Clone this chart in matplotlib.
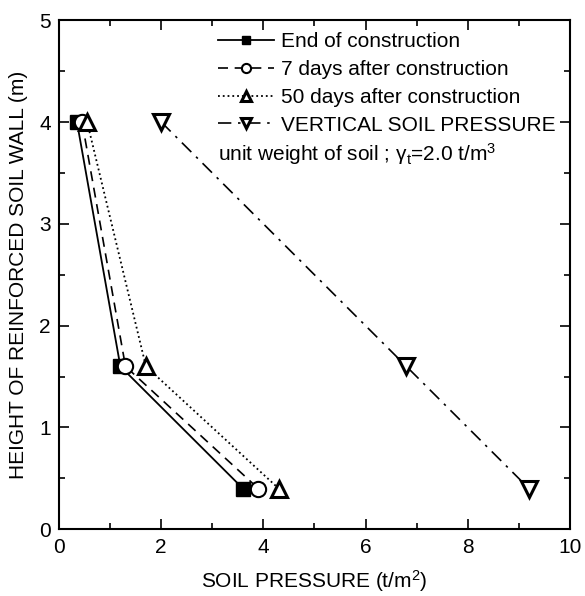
import matplotlib
matplotlib.use("Agg")
import matplotlib.pyplot as plt
from matplotlib.ticker import MultipleLocator

plt.rcParams['font.family'] = ['Liberation Sans', 'DejaVu Sans']
plt.rcParams['mathtext.fontset'] = 'custom'
plt.rcParams['mathtext.rm'] = 'Liberation Sans'
plt.rcParams['mathtext.it'] = 'Liberation Sans'
plt.rcParams['mathtext.default'] = 'rm'

height = [4.0, 1.6, 0.4]
end_construction = [0.35, 1.2, 3.6]
days7 = [0.45, 1.3, 3.9]
days50 = [0.55, 1.7, 4.3]
vertical = [2.0, 6.8, 9.2]

fig = plt.figure(figsize=(5.85, 5.96), dpi=100)
ax = fig.add_axes([0.101, 0.112, 0.873, 0.854])

ax.plot(end_construction, height, '-', color='black', marker='s', ms=10, mfc='black', lw=1.3,
        label='End of construction')
ax.plot(days7, height, '--', color='black', marker='o', ms=11, mfc='white', mew=1.5, lw=1.2,
        label='7 days after construction', dashes=(6, 4))
ax.plot(days50, height, ':', color='black', marker='^', ms=11, mfc='white', mew=2.2, lw=1.3,
        label='50 days after construction')
ax.plot(vertical, height, '-.', color='black', marker='v', ms=11, mfc='white', mew=2.2, lw=1.2,
        label='VERTICAL SOIL PRESSURE', dashes=(8, 4, 1.5, 4))

ax.set_xlim(0, 10)
ax.set_ylim(0, 5)
ax.xaxis.set_major_locator(MultipleLocator(2))
ax.xaxis.set_minor_locator(MultipleLocator(1))
ax.yaxis.set_major_locator(MultipleLocator(1))
ax.yaxis.set_minor_locator(MultipleLocator(0.5))
ax.tick_params(which='both', direction='in', top=True, right=True, labelsize=15, width=1.2)
ax.tick_params(which='major', length=7, pad=6)
ax.tick_params(which='minor', length=4)
for s in ax.spines.values():
    s.set_linewidth(1.5)

ax.set_xlabel('SOIL PRESSURE (t/m$^2$)', fontsize=15, labelpad=8)
ax.set_ylabel('HEIGHT OF REINFORCED SOIL WALL (m)', fontsize=15, labelpad=8)

leg = ax.legend(loc='upper left', frameon=False, fontsize=15, handlelength=2.7,
                handletextpad=0.35, labelspacing=0.42, borderpad=0, borderaxespad=0,
                markerscale=0.6, bbox_to_anchor=(0.311, 0.976))
ax.text(0.311, 0.738, 'unit weight of soil ; γ$_t$=2.0 t/m$^3$', transform=ax.transAxes,
        fontsize=15, ha='left', va='center')

fig.savefig('out.png', dpi=100)
